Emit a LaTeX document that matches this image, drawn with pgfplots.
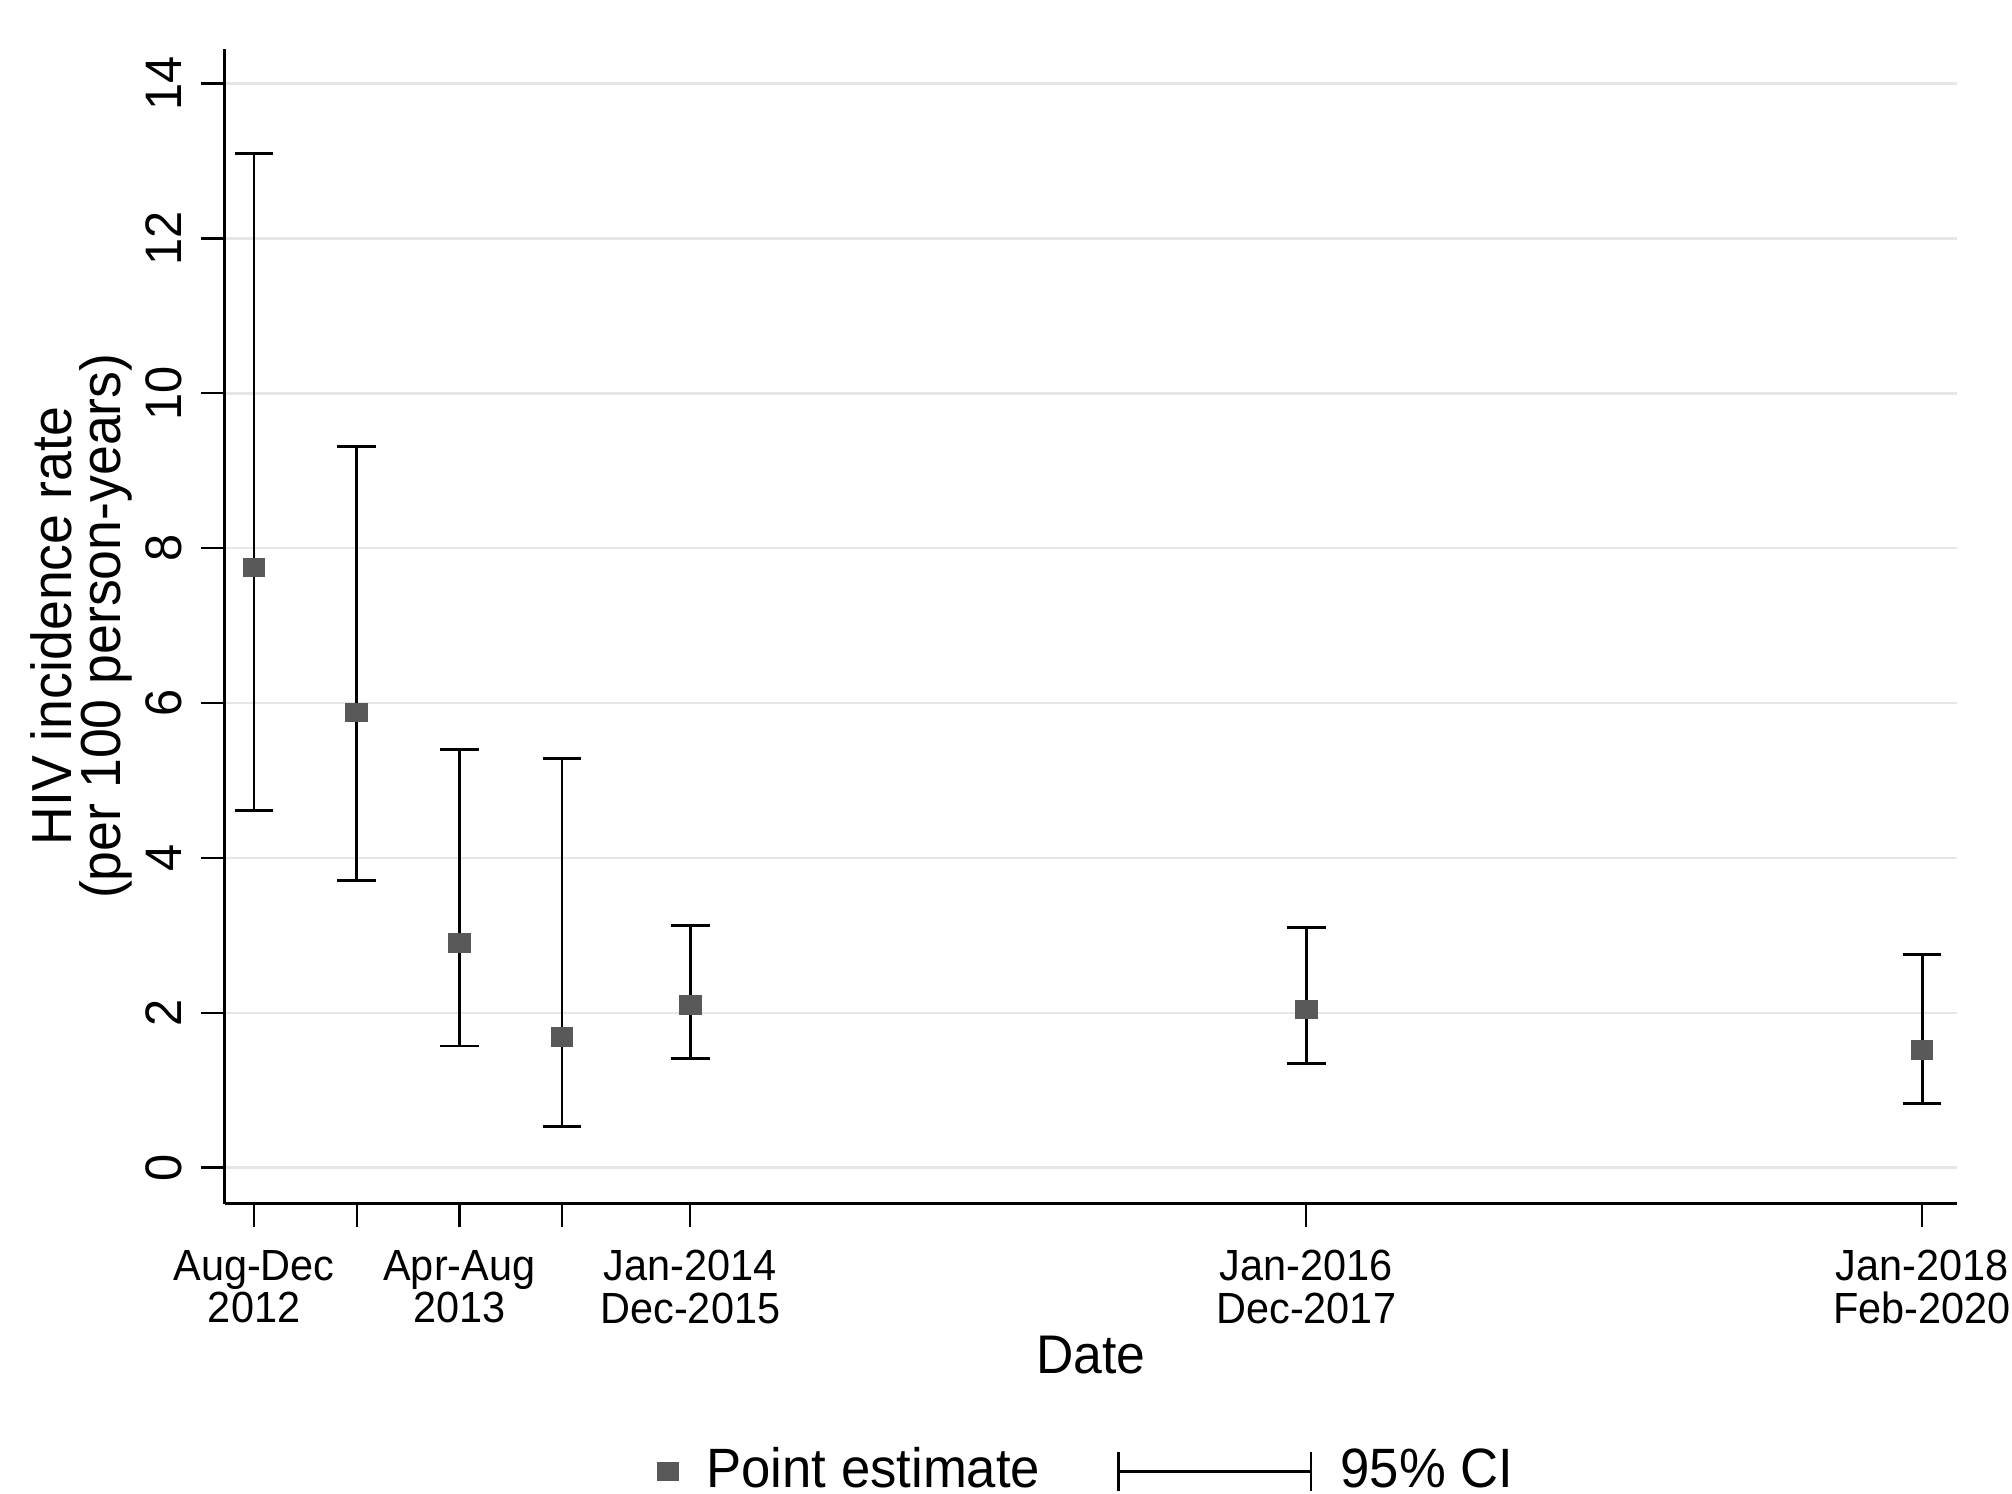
\documentclass[border=0pt]{standalone}
\usepackage{fontspec}
\setmainfont[FakeStretch=0.95]{Liberation Sans}
\usepackage{pgfplots}
\pgfplotsset{compat=1.18}
\usepackage{pgfplotstable}
\definecolor{markgray}{HTML}{595959}
\definecolor{gridgray}{HTML}{E6E6E6}
\pgfplotstableread{
x est lo hi
0 7.75 4.61 13.10
4 5.88 3.71 9.31
8 2.90 1.57 5.40
12 1.69 0.53 5.28
17 2.10 1.41 3.13
41 2.04 1.34 3.10
65 1.52 0.83 2.75
}\datatable
\begin{document}
\begin{tikzpicture}
\path[use as bounding box] (-43.75pt,-56.5pt) rectangle (348.25pt,234.5pt);
\begin{axis}[
  at={(0,0)}, anchor=south west,
  scale only axis, width=337.5pt, height=225pt,
  xmin=-1.15, xmax=66.35, ymin=-0.464, ymax=14.45,
  axis x line=bottom, axis y line=left,
  axis line style={-, line width=0.45pt, black},
  tick align=outside, major tick length=4.6pt,
  tick style={black, line width=0.45pt},
  xtick={0,4,8,12,17,41,65},
  xticklabels={{Aug-Dec\\2012},{},{Apr-Aug\\2013},{},{Jan-2014\\Dec-2015},{Jan-2016\\Dec-2017},{Jan-2018\\Feb-2020}},
  xticklabel style={align=center, font=\fontsize{8.5}{8.3}\selectfont, inner sep=0pt, yshift=-4.3pt},
  ytick={0,2,4,6,8,10,12,14},
  yticklabel shift=3.5pt,
  yticklabel style={rotate=90, anchor=south, font=\fontsize{10}{11}\selectfont, inner sep=0pt},
  /pgf/number format/assume math mode=true,
  ymajorgrids, grid style={gridgray, line width=0.5pt},
  xlabel={Date},
  xlabel style={at={(axis description cs:0.5,-0.131)}, anchor=center, font=\fontsize{10.6}{12}\selectfont},
  ylabel={HIV incidence rate\\(per 100 person-years)},
  ylabel style={at={(axis description cs:-0.0826,0.5)}, anchor=center, align=center, font=\fontsize{11}{9.6}\selectfont},
  legend columns=2,
  legend style={draw=none, at={(axis description cs:0.5,-0.2322)}, anchor=center,
    font=\fontsize{10.8}{12}\selectfont,
    /tikz/every odd column/.append style={column sep=3.5pt},
    /tikz/every even column/.append style={column sep=13pt}},
  legend cell align=left,
]
\addplot[draw=none, mark=none, forget plot,
  error bars/.cd, y dir=both, y explicit,
  error bar style={draw=black, line width=0.55pt},
  error mark options={rotate=90, draw=black, mark size=3.75pt, line width=0.55pt}]
  table[x=x, y=est, y error plus expr=\thisrow{hi}-\thisrow{est}, y error minus expr=\thisrow{est}-\thisrow{lo}] {\datatable};
\addplot[only marks, mark=square*, mark size=2pt, mark options={fill=markgray, draw=markgray, yscale=0.85}]
  table[x=x, y=est] {\datatable};
\addlegendentry{Point estimate}
\addlegendimage{legend image code/.code={
  \draw[black, line width=0.55pt] (0pt,0pt) -- (37.5pt,0pt);
  \draw[black, line width=0.55pt] (0pt,-3.75pt) -- (0pt,3.75pt);
  \draw[black, line width=0.55pt] (37.5pt,-3.75pt) -- (37.5pt,3.75pt);
}}
\addlegendentry{95\% CI}
\end{axis}
\end{tikzpicture}
\end{document}
